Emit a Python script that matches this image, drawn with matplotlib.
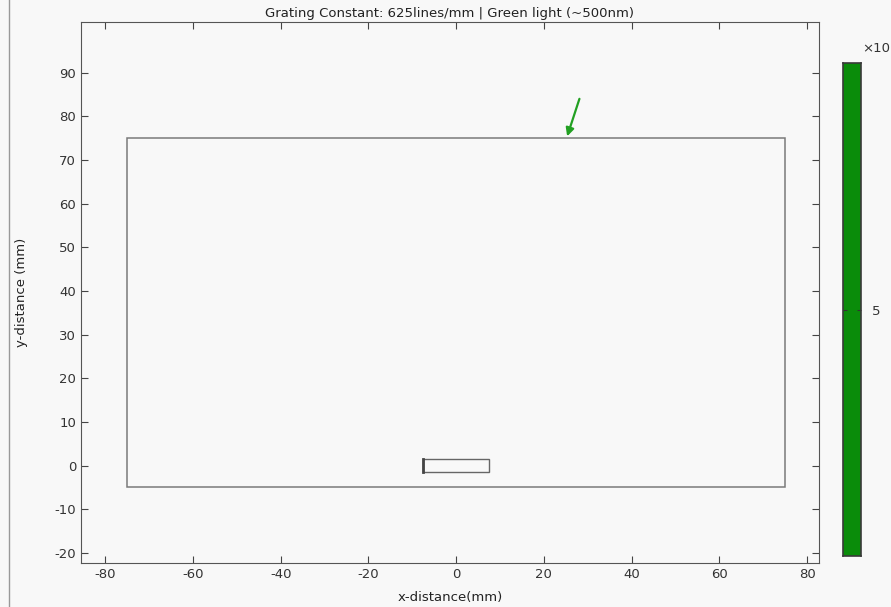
import matplotlib.pyplot as plt
from matplotlib.patches import Rectangle
from matplotlib.lines import Line2D

plt.rcParams['axes.unicode_minus'] = False

# outer boundary of the simulation domain (mm)
domain_x = [-75, 75]
domain_y = [-5, 75]
# grating block
grating_x = [-7.5, 7.5]
grating_y = [-1.5, 1.5]
# incident light arrow: start -> end
arrow_start = [28.1, 84.0]
arrow_end = [25.3, 75.4]

x_ticks = [-80, -60, -40, -20, 0, 20, 40, 60, 80]
y_ticks = [-20, -10, 0, 10, 20, 30, 40, 50, 60, 70, 80, 90]
cbar_range = [0, 10]
cbar_ticks = [5]

bg = '#f8f8f8'
fig = plt.figure(figsize=(8.91, 6.07), dpi=100, facecolor=bg)
ax = fig.add_axes([0.0909, 0.0725, 0.8283, 0.8913], facecolor=bg)

ax.add_patch(Rectangle((domain_x[0], domain_y[0]), domain_x[1] - domain_x[0],
                       domain_y[1] - domain_y[0], fill=False,
                       edgecolor='#7a7a7a', linewidth=1.1))
ax.add_patch(Rectangle((grating_x[0], grating_y[0]), grating_x[1] - grating_x[0],
                       grating_y[1] - grating_y[0], fill=False,
                       edgecolor='#666666', linewidth=1.0))
ax.plot([grating_x[0], grating_x[0]], grating_y, color='#444444', lw=2)
ax.annotate('', xy=arrow_end, xytext=arrow_start,
            arrowprops=dict(arrowstyle='-|>', color='#22a022', lw=1.6,
                            mutation_scale=12, shrinkA=0, shrinkB=0))

ax.set_xlim(-85.5, 82.7)
ax.set_ylim(-22.3, 101.6)
ax.set_xticks(x_ticks)
ax.set_yticks(y_ticks)
ax.tick_params(direction='in', top=True, right=True, labeltop=False,
               labelright=False, length=5, color='#444444',
               labelcolor='#333333', labelsize=9.5)
for s in ax.spines.values():
    s.set_color('#555555')
ax.set_title('Grating Constant: 625lines/mm | Green light (~500nm)',
             fontsize=9.5, color='#222222', pad=3.5)
ax.set_xlabel('x-distance(mm)', fontsize=9.5, color='#222222', labelpad=7.5)
ax.set_ylabel('y-distance (mm)', fontsize=9.5, color='#222222', labelpad=19)

# colour bar
cax = fig.add_axes([0.9461, 0.0840, 0.0202, 0.8122])
cax.add_patch(Rectangle((0, cbar_range[0]), 1, cbar_range[1] - cbar_range[0],
                        facecolor='#0a8c0a', edgecolor='none'))
cax.set_xlim(0, 1)
cax.set_ylim(*cbar_range)
cax.set_xticks([])
cax.set_yticks(cbar_ticks)
cax.tick_params(axis='y', direction='in', left=True, right=True,
                labelleft=False, labelright=True, length=3,
                color='#333333', labelcolor='#333333', labelsize=9.5, pad=8)
for s in cax.spines.values():
    s.set_color('#3a3a3a')
    s.set_linewidth(1.2)
fig.text(0.968, 0.915, '\u00d710', fontsize=9.5, color='#333333')

# panel frame line on the left
fig.add_artist(Line2D([0.0105, 0.0105], [0, 1], color='#999999', lw=1))

fig.savefig('out.png', dpi=100, facecolor=bg)
